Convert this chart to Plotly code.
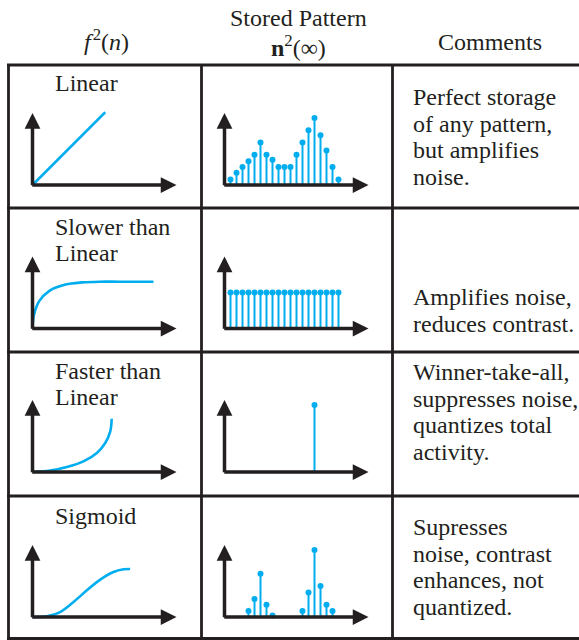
import plotly.graph_objects as go

# ---------------- data ----------------
row_labels = [["Linear"], ["Slower than", "Linear"], ["Faster than", "Linear"], ["Sigmoid"]]
comments = [
    ["Perfect storage", "of any pattern,", "but amplifies", "noise."],
    ["Amplifies noise,", "reduces contrast."],
    ["Winner-take-all,", "suppresses noise,", "quantizes total", "activity."],
    ["Supresses", "noise, contrast", "enhances, not", "quantized."],
]
header_f = "<i>f</i>\u200a<sup>2</sup>(<i>n</i>)"
header_pattern = ["Stored Pattern", "<b>n</b><sup>2</sup>(∞)"]
header_comments = "Comments"

# signal functions f^2(n)
linear_x = [0, 1.01]
linear_y = [0, 1.01]
slower_x = [0, 0.023, 0.093, 0.23, 0.46, 0.69, 0.93, 1.2, 1.68]
slower_y = [0, 0.20, 0.38, 0.52, 0.61, 0.64, 0.65, 0.65, 0.65]
faster_x = [0, 0.245, 0.477, 0.708, 0.894, 1.01, 1.08, 1.10]
faster_y = [0, 0.019, 0.069, 0.148, 0.264, 0.403, 0.565, 0.74]
sigmoid_x = [0, 0.2, 0.384, 0.569, 0.755, 0.94, 1.125, 1.264, 1.356]
sigmoid_y = [0, 0.009, 0.069, 0.208, 0.37, 0.519, 0.625, 0.662, 0.667]

# stored patterns n^2(inf), 19 cells
cell_index = [1, 2, 3, 4, 5, 6, 7, 8, 9, 10, 11, 12, 13, 14, 15, 16, 17, 18, 19]
pattern_linear = [0.075, 0.17, 0.25, 0.33, 0.42, 0.59, 0.42, 0.35, 0.25, 0.25,
                  0.25, 0.42, 0.59, 0.76, 0.93, 0.69, 0.48, 0.25, 0.075]
pattern_slower = [0.5, 0.5, 0.5, 0.5, 0.5, 0.5, 0.5, 0.5, 0.5, 0.5,
                  0.5, 0.5, 0.5, 0.5, 0.5, 0.5, 0.5, 0.5, 0.5]
pattern_faster = [0, 0, 0, 0, 0, 0, 0, 0, 0, 0,
                  0, 0, 0, 0, 0.93, 0, 0, 0, 0]
pattern_sigmoid = [0, 0, 0, 0.085, 0.25, 0.6, 0.17, 0.02, 0, 0,
                   0, 0, 0.085, 0.34, 0.93, 0.43, 0.17, 0.085, 0]

curves = [(linear_x, linear_y), (slower_x, slower_y), (faster_x, faster_y), (sigmoid_x, sigmoid_y)]
patterns = [pattern_linear, pattern_slower, pattern_faster, pattern_sigmoid]

# ---------------- styling / layout ----------------
W, H = 579, 640
BLUE = "#00aeef"
INK = "#231f20"
FONT = "Liberation Serif, Times New Roman, serif"
FS = 24

row_origin_y = [185, 328.5, 472, 617]
row_top = [65, 208, 352, 496, 638.5]
col_x = [8.5, 201.5, 392.5]


def PX(x):
    return x / W


def PY(y):
    return 1 - y / H


fig = go.Figure()
annotations = []
shapes = []


def add_axes(k, ox, oy, ux, uy, xr, yr):
    sfx = "" if k == 1 else str(k)
    xd = [PX(ox + xr[0] * ux), PX(ox + xr[1] * ux)]
    yd = [PY(oy - yr[0] * uy), PY(oy - yr[1] * uy)]
    fig.update_layout(**{
        "xaxis" + sfx: dict(domain=xd, range=xr, visible=False, fixedrange=True, anchor="y" + sfx),
        "yaxis" + sfx: dict(domain=yd, range=yr, visible=False, fixedrange=True, anchor="x" + sfx),
    })
    return "x" + sfx, "y" + sfx


def add_arrow_axes(xa, ya, xtip, ytip, ux, uy):
    common = dict(xref=xa, yref=ya, axref=xa, ayref=ya, text="", showarrow=True,
                  arrowhead=2, arrowsize=0.9, arrowwidth=3.5, arrowcolor=INK, standoff=0)
    annotations.append(dict(x=xtip, y=0, ax=-1.75 / ux, ay=0, **common))
    annotations.append(dict(x=0, y=ytip, ax=0, ay=-1.75 / uy, **common))


k = 1
for r in range(4):
    oy = row_origin_y[r]
    # signal function panel
    xa, ya = add_axes(k, 32.5, oy, 72, 72, [-0.1, 2.1], [-0.1, 1.1])
    cx, cy = curves[r]
    fig.add_trace(go.Scatter(x=cx, y=cy, mode="lines", xaxis=xa, yaxis=ya,
                             line=dict(color=BLUE, width=2.6, shape="spline", smoothing=1.0),
                             hoverinfo="skip", showlegend=False))
    add_arrow_axes(xa, ya, 2.0, 1.0, 72, 72)
    k += 1
    # stored pattern panel
    xa, ya = add_axes(k, 224.5, oy, 6, 72, [-1, 25], [-0.1, 1.1])
    sx, sy, dx, dy = [], [], [], []
    for i, v in zip(cell_index, patterns[r]):
        if v > 0:
            sx += [i, i, None]
            sy += [0, v, None]
            dx.append(i)
            dy.append(v)
    fig.add_trace(go.Scatter(x=sx, y=sy, mode="lines", xaxis=xa, yaxis=ya,
                             line=dict(color=BLUE, width=2), hoverinfo="skip", showlegend=False))
    fig.add_trace(go.Scatter(x=dx, y=dy, mode="markers", xaxis=xa, yaxis=ya, cliponaxis=False,
                             marker=dict(color=BLUE, size=6), hoverinfo="skip", showlegend=False))
    add_arrow_axes(xa, ya, 24, 1.0, 6, 72)
    k += 1


def txt(text, x, y, xanchor="left"):
    annotations.append(dict(text=text, x=PX(x), y=PY(y), xref="paper", yref="paper",
                            xanchor=xanchor, yanchor="middle", showarrow=False,
                            font=dict(family=FONT, size=FS, color=INK)))


# headers
txt(header_f, 106, 40, "center")
txt(header_pattern[0], 298, 18, "center")
txt(header_pattern[1], 298, 46, "center")
txt(header_comments, 490, 42, "center")

label_first = [83, 227, 371, 516]
for r, lines in enumerate(row_labels):
    for j, line in enumerate(lines):
        txt(line, 53, label_first[r] + 26.3 * j)

comment_first = [97, 297, 372, 527]
for r, lines in enumerate(comments):
    for j, line in enumerate(lines):
        txt(line, 411, comment_first[r] + 26.6 * j)

# table grid
for yv in row_top:
    shapes.append(dict(type="line", xref="paper", yref="paper", x0=PX(7), x1=PX(600),
                       y0=PY(yv), y1=PY(yv), line=dict(color=INK, width=2.8)))
for xv in col_x:
    shapes.append(dict(type="line", xref="paper", yref="paper", x0=PX(xv), x1=PX(xv),
                       y0=PY(row_top[0]), y1=PY(row_top[-1]), line=dict(color=INK, width=2.8)))

fig.update_layout(width=W, height=H, margin=dict(l=0, r=0, t=0, b=0),
                  paper_bgcolor="white", plot_bgcolor="rgba(0,0,0,0)",
                  annotations=annotations, shapes=shapes, showlegend=False)

fig.write_html("out.html", config={"displayModeBar": False},
               post_script="document.body.style.margin='0px';document.body.style.overflow='hidden';")
